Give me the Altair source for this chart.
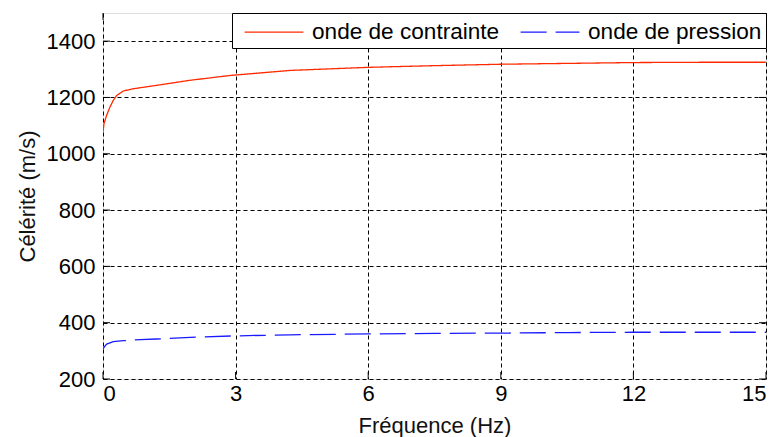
import altair as alt
import pandas as pd

freq_c = [0, 0.023, 0.083, 0.158, 0.233, 0.31, 0.46, 0.69, 1.21, 1.97, 2.87, 4.23, 6, 7.5, 9, 10.5, 12, 13.5, 15]
vals_c = [1077, 1107, 1137, 1166, 1190, 1207, 1223, 1231, 1243, 1261, 1278, 1296, 1307, 1313, 1318, 1321, 1324, 1325, 1325]

freq_p = [0, 0.03, 0.083, 0.233, 0.46, 0.84, 1.21, 1.97, 2.95, 4.23, 6, 7.5, 9, 10.5, 12, 13.5, 15]
vals_p = [306, 314, 324, 333, 336, 340, 342, 348, 353, 357, 360, 362, 363, 365, 366, 366, 366]

series = ["onde de contrainte", "onde de pression"]
x_ticks = [0, 3, 6, 9, 12, 15]
y_ticks = [200, 400, 600, 800, 1000, 1200, 1400]

df = pd.concat([
    pd.DataFrame({"f": freq_c, "v": vals_c, "s": series[0], "o": range(len(freq_c))}),
    pd.DataFrame({"f": freq_p, "v": vals_p, "s": series[1], "o": range(len(freq_p))}),
])

W, H = 663, 366
FONT = "Liberation Sans"
FS = 22

xs = alt.Scale(domain=[0, 15], nice=False, zero=False)
ys = alt.Scale(domain=[200, 1500], nice=False, zero=False)

legend = alt.Legend(
    orient="top-right", offset=0, direction="horizontal", title=None,
    strokeColor="black", fillColor="white", padding=4,
    labelFont=FONT, labelFontSize=22.6, labelColor="black", labelLimit=400,
    labelExpr="datum.label + '\u00a0'",
    symbolType="M-2.1,0H2.1", symbolSize=784, symbolStrokeWidth=1.3,
    symbolOffset=23, labelOffset=23, columnPadding=12, cornerRadius=0,
)

lines = alt.Chart(df).mark_line(strokeWidth=1.3, clip=True).encode(
    x=alt.X("f:Q", scale=xs, title="Fréquence (Hz)",
            axis=alt.Axis(values=x_ticks, grid=True, gridColor="black", gridDash=[4, 3],
                          gridOpacity=1, domain=False, ticks=False, labelPadding=4,
                          titlePadding=11, labelFontSize=FS, titleFontSize=FS,
                          labelFont=FONT, titleFont=FONT, titleFontWeight="normal",
                          labelColor="black", titleColor="#111", format="d")),
    y=alt.Y("v:Q", scale=ys, title="Célérité (m/s)",
            axis=alt.Axis(values=y_ticks, grid=True, gridColor="black", gridDash=[4, 3],
                          gridOpacity=1, domain=False, ticks=False, labelPadding=8,
                          titlePadding=7, labelFontSize=FS, titleFontSize=FS,
                          labelFont=FONT, titleFont=FONT, titleFontWeight="normal",
                          labelColor="black", titleColor="#111", format="d")),
    color=alt.Color("s:N", scale=alt.Scale(domain=series, range=["#ff2a00", "#1a1aff"]),
                    legend=legend),
    strokeDash=alt.StrokeDash("s:N", scale=alt.Scale(domain=series, range=[[1, 0], [26, 9]]),
                              legend=legend),
    order="o:Q",
)

xt = pd.DataFrame({"t": x_ticks})
yt = pd.DataFrame({"t": y_ticks})
xtick_b = alt.Chart(xt).mark_rule(color="black", strokeWidth=1).encode(
    x=alt.X("t:Q", scale=xs), y=alt.value(H), y2=alt.value(H - 7))
xtick_t = alt.Chart(xt).mark_rule(color="black", strokeWidth=1).encode(
    x=alt.X("t:Q", scale=xs), y=alt.value(0), y2=alt.value(7))
ytick_l = alt.Chart(yt).mark_rule(color="black", strokeWidth=1).encode(
    y=alt.Y("t:Q", scale=ys), x=alt.value(0), x2=alt.value(7))
ytick_r = alt.Chart(yt).mark_rule(color="black", strokeWidth=1).encode(
    y=alt.Y("t:Q", scale=ys), x=alt.value(W), x2=alt.value(W - 7))

chart = alt.layer(xtick_b, xtick_t, ytick_l, ytick_r, lines).properties(
    width=W, height=H,
    autosize=alt.AutoSizeParams(type="none"),
    padding={"left": 95, "top": 5, "right": 5, "bottom": 64},
).configure_view(
    stroke="black", strokeWidth=1.5
).configure(background="white")

chart.save("out.html", embed_options={"renderer": "svg", "actions": False})
